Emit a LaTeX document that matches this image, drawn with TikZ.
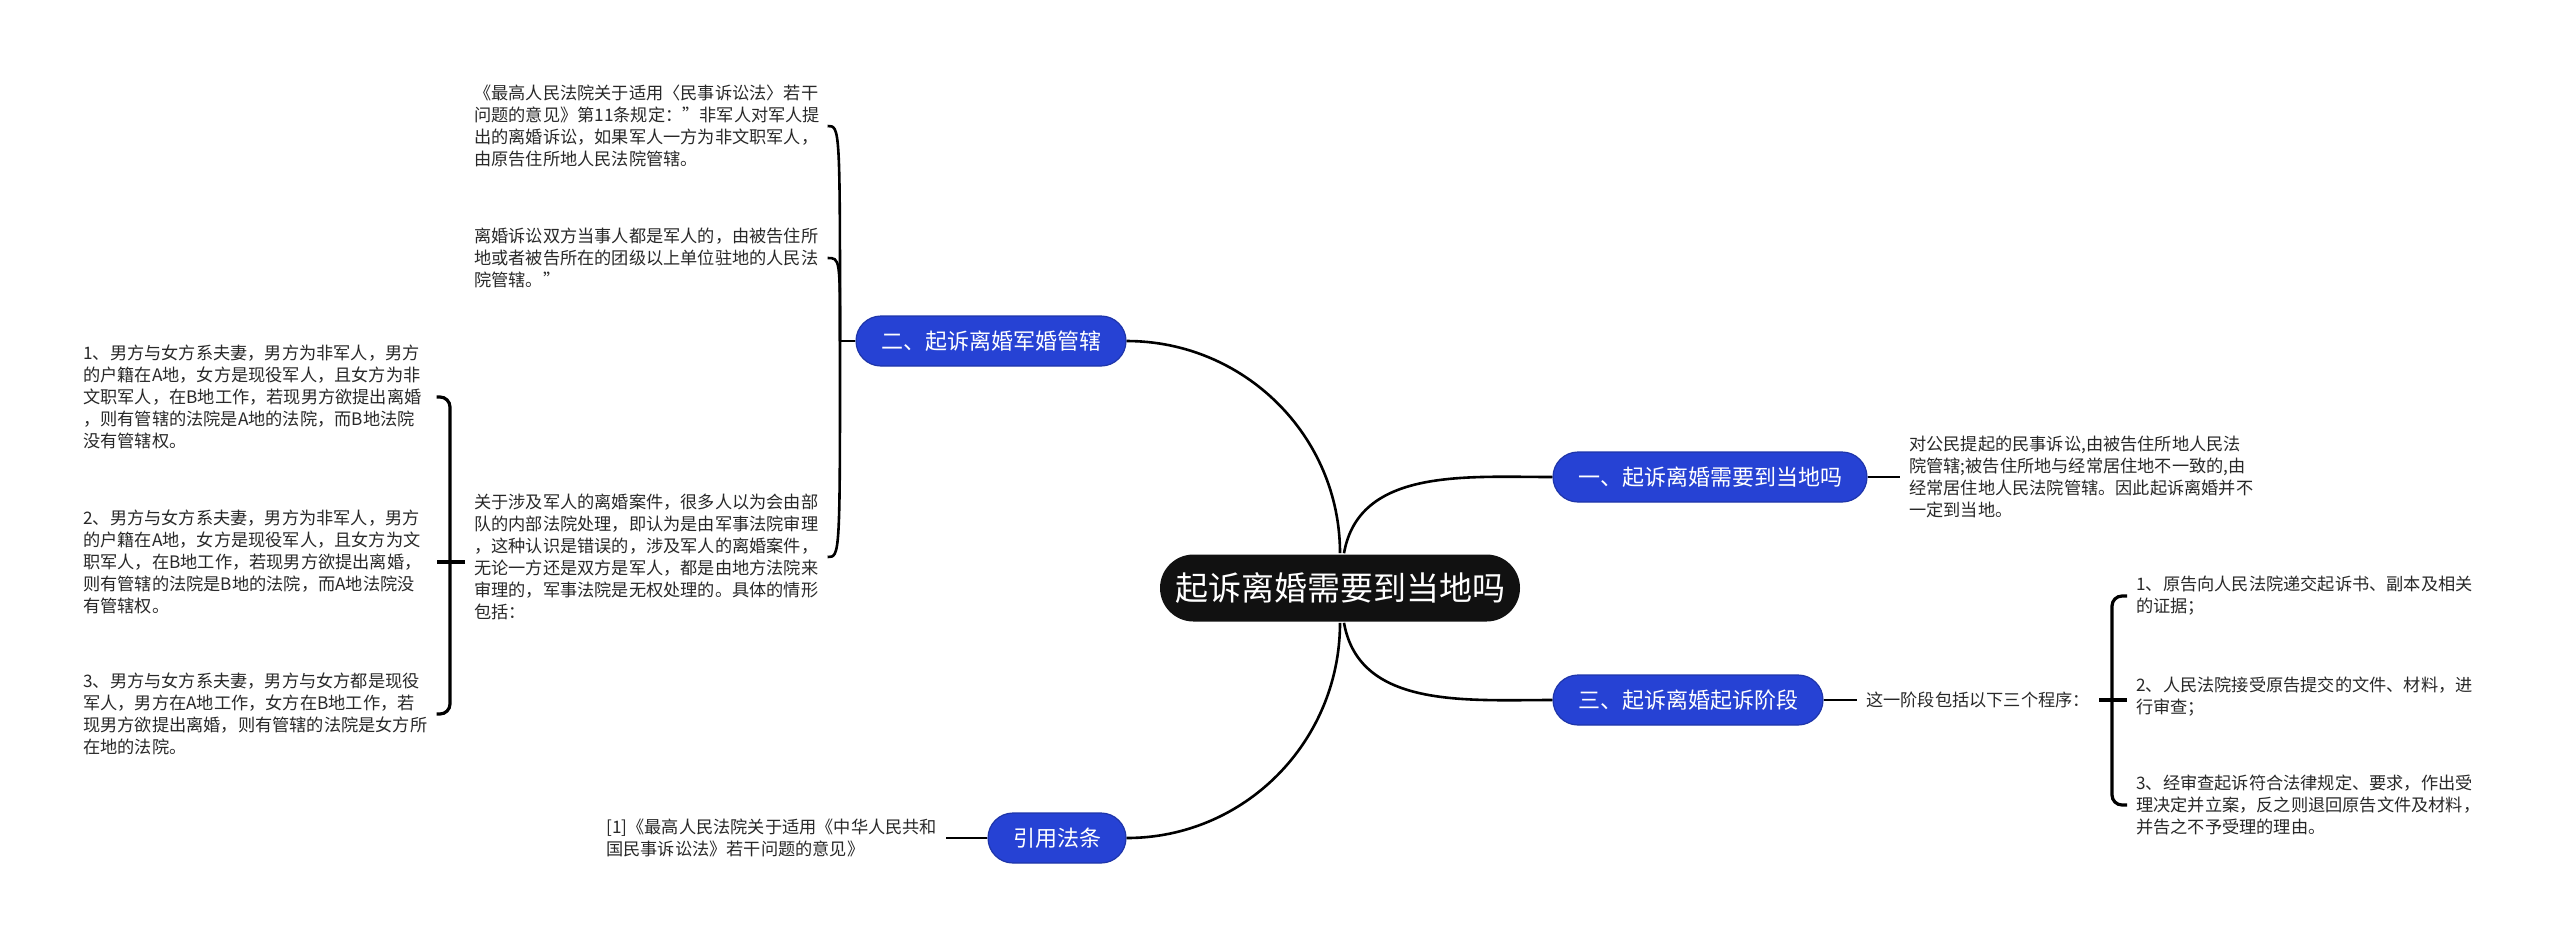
\documentclass[tikz,border=0pt]{standalone}
\usepackage{fontspec}
\setmainfont{Noto Sans CJK SC}
\usepackage{xcolor}

\definecolor{mapblue}{RGB}{38,66,212}
\definecolor{rootblack}{RGB}{17,17,17}
\definecolor{leafgray}{RGB}{40,40,40}

\begin{document}
\begin{tikzpicture}[x=0.5pt, y=-0.5pt, line width=1.3pt,
    rootnode/.style={fill=rootblack, text=white, rounded corners=16.75pt,
      minimum width=180pt, minimum height=33.5pt, inner sep=0pt,
      font=\fontsize{16.5pt}{20pt}\selectfont},
    branch/.style={fill=mapblue, draw=mapblue!80!black, line width=0.6pt,
      text=white, rounded corners=12.5pt, minimum height=25pt,
      inner xsep=12.5pt, inner ysep=0pt, font=\fontsize{11pt}{13pt}\selectfont},
    leaf/.style={anchor=west, align=left, text=leafgray, inner xsep=4pt,
      inner ysep=2pt, font=\fontsize{8.6pt}{11pt}\selectfont},
    wide/.style={leaf, text width=172pt},
    brace/.style={line width=1.6pt, rounded corners=5pt}]
    \useasboundingbox (0,0) rectangle (2560,939);
    % centre and branches
    \node[rootnode] (root) at (1340,588) {起诉离婚需要到当地吗};
    \node[branch] (one) at (1710,477) {一、起诉离婚需要到当地吗};
    \node[branch] (two) at (991,341) {二、起诉离婚军婚管辖};
    \node[branch] (three) at (1688,700) {三、起诉离婚起诉阶段};
    \node[branch] (cite) at (1057,838) {引用法条};
    \draw (root.north) to[out=90, in=0] (two.east);
    \draw ([xshift=2pt]root.north) to[out=80, in=180] (one.west);
    \draw ([xshift=2pt]root.south) to[out=-80, in=180] (three.west);
    \draw (root.south) to[out=-90, in=0] (cite.east);
    % branch one
    \node[leaf] (onetxt) at (1900,477) {对公民提起的民事诉讼,由被告住所地人民法\\院管辖;被告住所地与经常居住地不一致的,由\\经常居住地人民法院管辖。因此起诉离婚并不\\一定到当地。};
    \draw (one.east) -- (one.east -| onetxt.west);
    % branch two
    \node[wide] (twoa) at (465,126) {《最高人民法院关于适用〈民事诉讼法〉若干\\问题的意见》第11条规定："非军人对军人提\\出的离婚诉讼，如果军人一方为非文职军人，\\由原告住所地人民法院管辖。};
    \node[wide] (twob) at (465,258) {离婚诉讼双方当事人都是军人的，由被告住所\\地或者被告所在的团级以上单位驻地的人民法\\院管辖。"};
    \node[wide] (twoc) at (465,557) {关于涉及军人的离婚案件，很多人以为会由部\\队的内部法院处理，即认为是由军事法院审理\\，这种认识是错误的，涉及军人的离婚案件，\\无论一方还是双方是军人，都是由地方法院来\\审理的，军事法院是无权处理的。具体的情形\\包括：};
    \coordinate (j2) at (840,341);
    \draw (two.west) -- (j2);
    \draw (j2) .. controls (j2 |- twoa.east) .. (twoa.east);
    \draw (j2) .. controls (j2 |- twob.east) .. (twob.east);
    \draw (j2) .. controls (j2 |- twoc.east) .. (twoc.east);
    \node[wide] (casea) at (74,397) {1、男方与女方系夫妻，男方为非军人，男方\\的户籍在A地，女方是现役军人，且女方为非\\文职军人，在B地工作，若现男方欲提出离婚\\，则有管辖的法院是A地的法院，而B地法院\\没有管辖权。};
    \node[wide] (caseb) at (74,562) {2、男方与女方系夫妻，男方为非军人，男方\\的户籍在A地，女方是现役军人，且女方为文\\职军人，在B地工作，若现男方欲提出离婚，\\则有管辖的法院是B地的法院，而A地法院没\\有管辖权。};
    \node[wide] (casec) at (74,714) {3、男方与女方系夫妻，男方与女方都是现役\\军人，男方在A地工作，女方在B地工作，若\\现男方欲提出离婚，则有管辖的法院是女方所\\在地的法院。};
    \coordinate (jc) at (450,562);
    \draw[brace] (casea.east) -| (jc) |- (casec.east);
    \draw[line width=1.6pt] (twoc.west |- jc) -- (jc -| caseb.east);
    % branch three
    \node[leaf] (stage) at (1857,700) {这一阶段包括以下三个程序：};
    \draw (three.east) -- (three.east -| stage.west);
    \node[leaf] (stepa) at (2127,596) {1、原告向人民法院递交起诉书、副本及相关\\的证据；};
    \node[leaf] (stepb) at (2127,697) {2、人民法院接受原告提交的文件、材料，进\\行审查；};
    \node[leaf] (stepc) at (2127,805) {3、经审查起诉符合法律规定、要求，作出受\\理决定并立案，反之则退回原告文件及材料，\\并告之不予受理的理由。};
    \coordinate (j3) at (2112,700);
    \draw[brace] (stepa.west) -| (j3) |- (stepc.west);
    \draw[line width=1.6pt] (stage.east) -- (j3 -| stepb.west);
    % citation
    \node[leaf] (citetxt) at (597,838) {[1]《最高人民法院关于适用《中华人民共和\\国民事诉讼法》若干问题的意见》};
    \draw (cite.west) -- (cite.west -| citetxt.east);
\end{tikzpicture}
\end{document}
